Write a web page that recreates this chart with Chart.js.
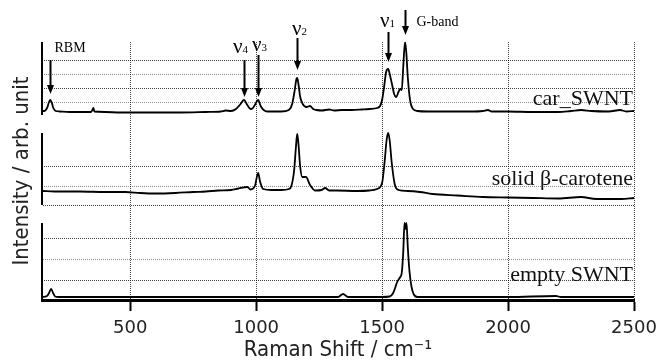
<!DOCTYPE html>
<html>
<head>
<meta charset="utf-8">
<script src="https://cdn.jsdelivr.net/npm/chart.js@4/dist/chart.umd.min.js"></script>
<style>
  html, body { margin: 0; padding: 0; background: #fff; }
  canvas { display: block; }
</style>
</head>
<body>
<canvas id="chart" width="660" height="360"></canvas>
<script>
"use strict";
// [Raman shift cm-1, intensity arb. unit] - 0 is the baseline of each trace
const carSwnt = [[150,1],[160,1],[170,4],[178,10],[183,12],[188,10],[195,4],[205,1],[220,0.5],[260,0],
    [300,0],[345,0],[350,2],[354,4],[358,0.5],[400,0],[460,-0.5],[500,-0.5],[600,-0.5],[700,-0.5],
    [800,0],[860,0.5],[880,1.5],[900,1],[920,3],[935,7],[952,12],[965,7],[978,3],[985,3.5],
    [995,7],[1008,12],[1018,6],[1030,2],[1045,0.5],[1100,0.5],[1130,2],[1143,8],[1152,20],[1160,33],
    [1163,34],[1168,28],[1175,15],[1185,8],[1200,5],[1214,6],[1226,3],[1240,2],[1260,1.5],[1290,2.5],
    [1310,1.5],[1340,2],[1380,2],[1420,2.5],[1450,3],[1480,4],[1492,6],[1500,12],[1508,25],[1516,40],
    [1524,43],[1532,36],[1540,27],[1548,18],[1556,15],[1565,20],[1572,23],[1578,22],[1584,45],[1591,70],
    [1596,60],[1602,35],[1611,12],[1623,3],[1640,1],[1680,0.5],[1750,0.5],[1850,0.5],[1900,1],[1920,2],
    [1935,0.5],[2000,0.5],[2100,0],[2200,0],[2250,1],[2290,2],[2330,1],[2400,0.5],[2445,2],[2470,0.5],[2500,1]];
const betaCarotene = [[150,1],[200,0.5],[300,0.5],[400,0],[480,0],[540,-1],[600,-1.5],[680,-1],[750,0],[800,0.5],
    [850,1.5],[900,2],[930,3.5],[965,5],[978,2.5],[995,6],[1008,19],[1016,10],[1028,3],[1060,2],
    [1100,2],[1130,3],[1140,6],[1151,22],[1158,45],[1163,58],[1168,48],[1175,25],[1183,15],[1198,15],
    [1214,7],[1234,1.5],[1260,2],[1274,4],[1290,1.5],[1320,1.5],[1400,1],[1450,1.5],[1480,3],[1500,9],
    [1510,30],[1518,52],[1524,59],[1530,52],[1538,30],[1550,8],[1565,2],[1600,1],[1650,0],[1700,-2],
    [1800,-3.5],[1900,-5],[2000,-5.5],[2100,-6],[2200,-6.5],[2290,-5],[2350,-7],[2450,-7],[2500,-6]];
const emptySwnt = [[150,0],[170,1],[178,4],[186,8],[194,4],[202,0.5],[215,0],[400,0],[800,0],[1200,0],
    [1325,0],[1345,3],[1365,0],[1500,0],[1530,0.5],[1544,4],[1560,15],[1572,20],[1578,24],[1584,45],
    [1589,74],[1593,68],[1597,74],[1602,50],[1609,25],[1617,10],[1625,3],[1640,0],[2000,0],[2190,1],[2210,0],[2500,0]];

const xTicks = [500, 1000, 1500, 2000, 2500];
const panelNames = ['car_SWNT', 'solid \u03b2-carotene', 'empty SWNT'];
const topGridLines = [52, 38, 24, 10];
const midGridLines = [26, 6, -13];
const botGridLines = [59, 38, 17];

// peak markers on the car_SWNT trace
const peakNames = ['RBM', '\u03bd4', '\u03bd3', '\u03bd2', '\u03bd1', 'G-band'];
const peakShift = [182, 952, 1008, 1163, 1524, 1591];
const arrowTip = [18, 15, 15, 42, 50, 77];
const arrowTail = [52, 52, 57, 74, 80, 102];

const serif = '"Liberation Serif", "Times New Roman", serif';

// dotted grid: a 2x2 pattern with two dark pixels on the diagonal
function dotPattern(alpha) {
    const c = document.createElement('canvas');
    c.width = 2; c.height = 2;
    const g = c.getContext('2d');
    g.fillStyle = 'rgba(0,0,0,' + alpha + ')';
    g.fillRect(0, 0, 1, 1);
    g.fillRect(1, 1, 1, 1);
    return document.getElementById('chart').getContext('2d').createPattern(c, 'repeat');
}
const dots = dotPattern(0.75);
const dotsLight = dotPattern(0.45);

const annotate = {
    id: 'annotate',
    afterDraw(chart, args, opts) {
        const {ctx, chartArea, scales} = chart;
        const panels = [scales.yTop, scales.yMid, scales.yBot];
        ctx.save();
        ctx.strokeStyle = '#000';
        ctx.fillStyle = '#000';
        ctx.lineWidth = 2;
        opts.frames.forEach((f, i) => {
            ctx.beginPath();
            ctx.moveTo(chartArea.left, panels[i].getPixelForValue(f[0]));
            ctx.lineTo(chartArea.left, panels[i].getPixelForValue(f[1]));
            ctx.stroke();
        });
        ctx.fillStyle = '#111';
        ctx.font = '22px ' + serif;
        ctx.textAlign = 'right';
        ctx.textBaseline = 'alphabetic';
        panelNames.forEach((name, i) => {
            ctx.fillText(name, chartArea.right - 1, panels[i].getPixelForValue(opts.nameBase[i]));
        });
        ctx.fillStyle = '#000';
        peakNames.forEach((name, i) => {
            const px = Math.round(scales.x.getPixelForValue(peakShift[i])) + 0.5;
            const y0 = scales.yTop.getPixelForValue(arrowTail[i]);
            const y1 = scales.yTop.getPixelForValue(arrowTip[i]);
            ctx.beginPath();
            ctx.moveTo(px, y0);
            ctx.lineTo(px, y1 - 7);
            ctx.stroke();
            ctx.beginPath();
            ctx.moveTo(px - 3.5, y1 - 9);
            ctx.lineTo(px + 3.5, y1 - 9);
            ctx.lineTo(px, y1);
            ctx.closePath();
            ctx.fill();

            const base = scales.yTop.getPixelForValue(opts.labelBase[i]);
            let lx = px + opts.labelDx[i];
            ctx.textAlign = 'left';
            if (name[0] === '\u03bd') {
                ctx.font = '21px ' + serif;
                const w1 = ctx.measureText(name[0]).width;
                ctx.font = '11px ' + serif;
                const w2 = ctx.measureText(name.slice(1)).width;
                if (opts.labelAlign[i] === 'center') lx -= (w1 + w2) / 2;
                ctx.font = '21px ' + serif;
                ctx.fillText(name[0], lx, base);
                ctx.font = '11px ' + serif;
                ctx.fillText(name.slice(1), lx + w1, base);
            } else {
                ctx.font = '14px ' + serif;
                ctx.textAlign = opts.labelAlign[i];
                ctx.fillText(name, lx, base);
            }
        });
        ctx.restore();
    }
};

function panelAxis(min, max, lines, width, title) {
    return {
        position: 'left',
        min: min,
        max: max,
        afterBuildTicks: s => { s.ticks = lines.map(v => ({value: v})); },
        afterFit: s => { s.width = width; },
        ticks: {display: false},
        grid: {drawTicks: false, lineWidth: 1, color: c => (c.index % 2 === 0 ? dots : dotsLight)},
        border: {display: false},
        title: title
    };
}

const ctx = document.getElementById('chart').getContext('2d');
const toPoints = arr => arr.map(p => ({x: p[0], y: p[1]}));
const lineStyle = {borderColor: '#000', borderWidth: 1.8, pointRadius: 0, cubicInterpolationMode: 'monotone', fill: false};

new Chart(ctx, {
    type: 'line',
    data: {
        datasets: [
            Object.assign({label: panelNames[0], data: toPoints(carSwnt), yAxisID: 'yTop'}, lineStyle),
            Object.assign({label: panelNames[1], data: toPoints(betaCarotene), yAxisID: 'yMid'}, lineStyle),
            Object.assign({label: panelNames[2], data: toPoints(emptySwnt), yAxisID: 'yBot'}, lineStyle)
        ]
    },
    options: {
        responsive: false,
        animation: false,
        layout: {padding: {top: 42, right: 26, left: 0, bottom: 0}},
        plugins: {
            legend: {display: false},
            tooltip: {enabled: false},
            annotate: {
                frames: [[-3, 70], [-13, 59], [-3, 74]],
                nameBase: [7, 7, 16],
                labelDx: [4, -4, 1, 2, -1, 11],
                labelBase: [60, 59, 61, 77, 85, 86],
                labelAlign: ['left', 'center', 'center', 'center', 'center', 'left']
            }
        },
        scales: {
            x: {
                type: 'linear',
                min: 150,
                max: 2500,
                afterBuildTicks: s => { s.ticks = xTicks.map(v => ({value: v})); },
                afterFit: s => { s.height = 60; s.paddingRight = 0; s.paddingLeft = 0; },
                ticks: {color: '#222', font: {family: '"DejaVu Sans"', size: 18}, padding: 7, maxRotation: 0,
                        callback: v => String(v)},
                grid: {color: dots, lineWidth: 1, tickLength: 11, tickColor: '#000', tickWidth: 2},
                border: {color: '#000', width: 3},
                title: {display: true, text: 'Raman Shift / cm\u207b\u00b9', color: '#222',
                        font: {family: '"DejaVu Sans Condensed", "DejaVu Sans"', size: 22, lineHeight: 1.2},
                        padding: {top: 0, bottom: -3}}
            },
            yTop: panelAxis(-188, 70, topGridLines, 0, {display: false}),
            yMid: panelAxis(-108, 150, midGridLines, 42, {display: true, text: 'Intensity / arb. unit', color: '#222',
                        font: {family: '"DejaVu Sans Condensed", "DejaVu Sans"', size: 22, lineHeight: 1.2},
                        padding: {top: 9, bottom: 0}}),
            yBot: panelAxis(-3, 255, botGridLines, 0, {display: false})
        }
    },
    plugins: [annotate]
});
</script>
</body>
</html>
